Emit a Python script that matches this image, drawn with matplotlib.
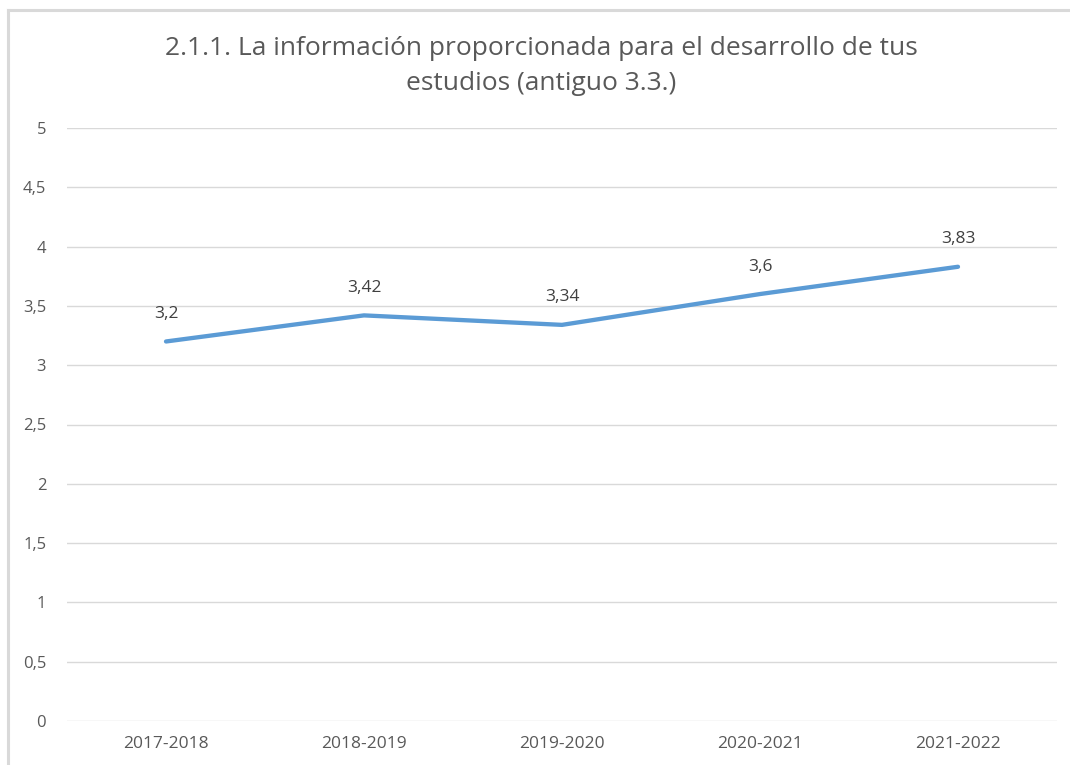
import matplotlib
matplotlib.use("Agg")
import matplotlib.pyplot as plt
from matplotlib.lines import Line2D

categories = ["2017-2018", "2018-2019", "2019-2020", "2020-2021", "2021-2022"]
values = [3.2, 3.42, 3.34, 3.6, 3.83]
value_labels = ["3,2", "3,42", "3,34", "3,6", "3,83"]
yticks = [0, 0.5, 1, 1.5, 2, 2.5, 3, 3.5, 4, 4.5, 5]
ytick_labels = ["0", "0,5", "1", "1,5", "2", "2,5", "3", "3,5", "4", "4,5", "5"]
title = "2.1.1. La información proporcionada para el desarrollo de tus\nestudios (antiguo 3.3.)"

plt.rcParams['font.family'] = ['Open Sans', 'DejaVu Sans']

W, H = 1070, 765
fig = plt.figure(figsize=(W / 100, H / 100), dpi=100)
fig.patch.set_facecolor("white")

# outer chart border (top and left visible)
fig.add_artist(Line2D([7.5 / W, 7.5 / W], [0, 1 - 9.5 / H], transform=fig.transFigure,
                      color="#d9d9d9", lw=2.2))
fig.add_artist(Line2D([7.5 / W, 1], [1 - 9.5 / H, 1 - 9.5 / H], transform=fig.transFigure,
                      color="#d9d9d9", lw=2.2))

left, right = 67, 1057
top, bottom = 128, 721
ax = fig.add_axes([left / W, 1 - bottom / H, (right - left) / W, (bottom - top) / H])

x = list(range(len(categories)))
ax.plot(x, values, color="#5b9bd5", lw=3.1, solid_capstyle="round", zorder=3)
for xi, v, lab in zip(x, values, value_labels):
    ax.annotate(lab, (xi, v), xytext=(0, 14), textcoords="offset points",
                ha="center", va="bottom", fontsize=12.5, color="#404040")

ax.set_xlim(-0.5, len(categories) - 0.5)
ax.set_ylim(0, 5)
ax.set_yticks(yticks)
ax.set_yticklabels(ytick_labels)
ax.set_xticks(x)
ax.set_xticklabels(categories)
ax.tick_params(axis="both", length=0, labelcolor="#595959")
ax.tick_params(axis="y", pad=15, labelsize=12)
ax.tick_params(axis="x", pad=11, labelsize=12.5)
ax.grid(axis="y", color="#d9d9d9", lw=1)
ax.set_axisbelow(True)
for s in ax.spines.values():
    s.set_visible(False)

fig.text(541 / W, 1 - 66 / H, title, ha="center", va="center", fontsize=19,
         color="#595959", linespacing=1.55)

fig.savefig("out.png", dpi=100, facecolor="white")
